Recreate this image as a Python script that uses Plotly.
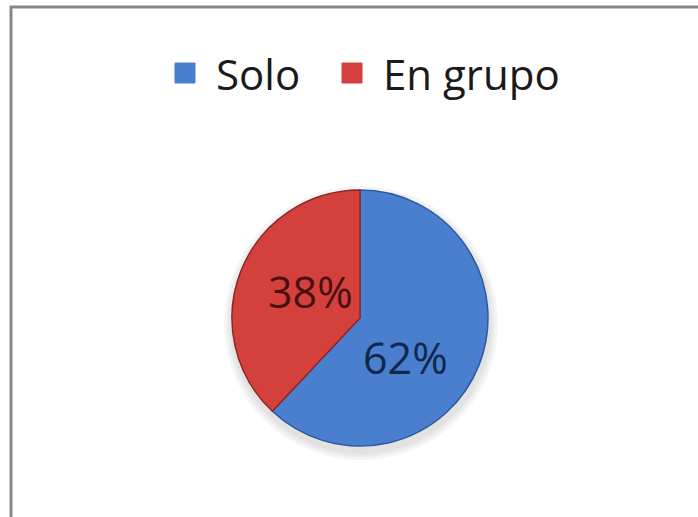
import math
import plotly.graph_objects as go

labels = ["Solo", "En grupo"]
values = [62, 38]
colors = ["#4a7fd0", "#d4413c"]
text_colors = ["#10284a", "#4a1010"]

W, H = 698, 517
cx, cy, r = 360, 318, 128  # pixel layout for the pie
# label placement: (angle shift in degrees from slice middle, radius fraction)
label_place = [(19, 0.47), (6, 0.44)]

fig = go.Figure()
fig.add_trace(go.Pie(
    labels=labels, values=values, sort=False, direction="clockwise", rotation=0,
    marker=dict(colors=colors, line=dict(color=["#2d5a9e", "#8e2624"], width=1.5)),
    textinfo="none",
    domain=dict(x=[(cx - r) / W, (cx + r) / W], y=[(H - cy - r) / H, (H - cy + r) / H]),
    showlegend=False, hoverinfo="label+percent",
))

shapes = [
    # outer frame
    dict(type="rect", xref="paper", yref="paper", x0=11 / W, x1=1.02, y0=-0.02, y1=1 - 7 / H,
         line=dict(color="#878787", width=3), fillcolor="rgba(0,0,0,0)", layer="above"),
]
# soft shadow under the pie
for i, a in enumerate([0.05, 0.05, 0.05]):
    rr = r + 3 + i * 3
    shapes.append(dict(type="circle", xref="paper", yref="paper",
                       x0=(cx - rr + 1) / W, x1=(cx + rr + 1) / W,
                       y0=(H - cy - rr - 5) / H, y1=(H - cy + rr - 5) / H,
                       line=dict(width=0), fillcolor=f"rgba(60,60,60,{a})", layer="below"))

annotations = []
# percent labels, angle derived from the values
total = sum(values)
start = 0.0
for v, tc, (shift, k) in zip(values, text_colors, label_place):
    mid = start + v / total * 180.0 + shift
    start += v / total * 360.0
    px = cx + k * r * math.sin(math.radians(mid))
    py = cy - k * r * math.cos(math.radians(mid))
    annotations.append(dict(text=f"{round(v / total * 100)}%", xref="paper", yref="paper",
                            x=px / W, y=(H - py) / H, xanchor="center", yanchor="middle",
                            showarrow=False,
                            font=dict(family="Open Sans", size=43, color=tc)))

# manual legend
leg_items = [(175, 218), (342, 385)]
for (mx, tx), lab, col in zip(leg_items, labels, colors):
    shapes.append(dict(type="rect", xref="paper", yref="paper",
                       x0=mx / W, x1=(mx + 20) / W, y0=(H - 83) / H, y1=(H - 63) / H,
                       fillcolor=col, line=dict(color=col, width=1)))
    annotations.append(dict(text=lab, xref="paper", yref="paper", x=(tx - 4) / W, y=(H - 74) / H,
                            xanchor="left", yanchor="middle", showarrow=False,
                            font=dict(family="Open Sans", size=42, color="#1a1a1a")))

fig.update_layout(
    width=W, height=H, margin=dict(l=0, r=0, t=0, b=0),
    paper_bgcolor="white", plot_bgcolor="white",
    shapes=shapes, annotations=annotations,
)
fig.write_html("out.html", config={"displayModeBar": False},
               post_script="document.body.style.margin='0';")
